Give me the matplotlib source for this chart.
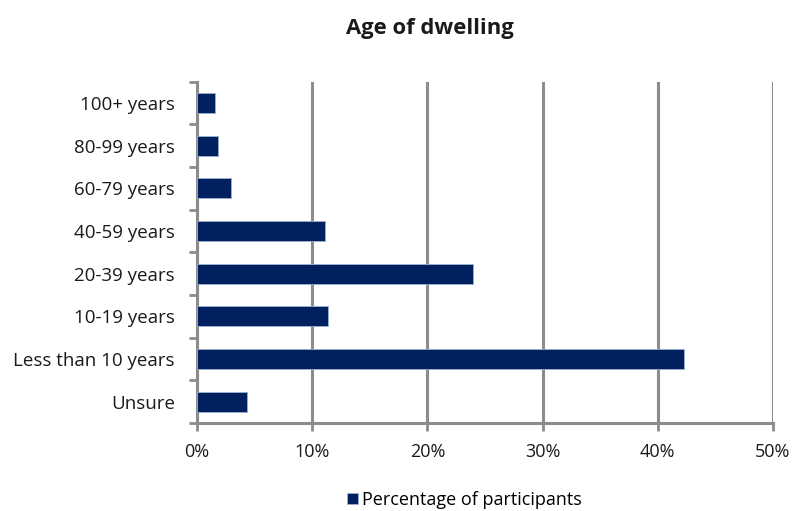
import matplotlib
matplotlib.use("Agg")
import matplotlib.pyplot as plt
import numpy as np
from matplotlib.ticker import FixedLocator, PercentFormatter

categories = ["Unsure", "Less than 10 years", "10-19 years", "20-39 years",
              "40-59 years", "60-79 years", "80-99 years", "100+ years"]
percentages = [4.35, 42.3, 11.4, 24.0, 11.1, 2.95, 1.85, 1.55]
x_ticks = [0, 10, 20, 30, 40, 50]

plt.rcParams["font.family"] = ["Open Sans", "DejaVu Sans"]

fig = plt.figure(figsize=(7.95, 5.11), dpi=100)
ax = fig.add_axes([0.248, 0.172, 0.724, 0.668])

grey = "#8c8c8c"
navy = "#002060"
text_col = "#1a1a1a"
pos = np.arange(len(categories))

ax.barh(pos, percentages, height=0.47, color=navy, edgecolor="#9db0d0",
        linewidth=0.6, zorder=3, label="Percentage of participants")

ax.set_xlim(0, 50)
ax.set_ylim(-0.5, len(categories) - 0.5)
ax.xaxis.set_major_locator(FixedLocator(x_ticks))
ax.xaxis.set_major_formatter(PercentFormatter(decimals=0))
ax.grid(axis="x", color=grey, linewidth=2.2, zorder=0)

ax.set_yticks(pos)
ax.set_yticklabels(categories)
ax.yaxis.set_minor_locator(FixedLocator(np.arange(-0.5, len(categories), 1.0)))
ax.tick_params(axis="y", which="major", length=0, pad=16, labelsize=13.5,
               labelcolor=text_col)
ax.tick_params(axis="y", which="minor", length=6, width=2, color=grey)
ax.tick_params(axis="x", which="major", length=6, width=2, color=grey,
               labelsize=13, pad=8, labelcolor=text_col)

for side in ["top", "right"]:
    ax.spines[side].set_visible(False)
for side in ["left", "bottom"]:
    ax.spines[side].set_color(grey)
    ax.spines[side].set_linewidth(2.2)

fig.text(0.541, 0.945, "Age of dwelling", ha="center", va="center",
         fontsize=15.8, fontweight="bold", color=text_col)

handles, labels = ax.get_legend_handles_labels()
fig.legend(handles, labels, loc="center", bbox_to_anchor=(0.584, 0.022),
           frameon=False, fontsize=13, handlelength=0.6, handleheight=0.6,
           handletextpad=0.25)

fig.savefig("out.png", dpi=100)
